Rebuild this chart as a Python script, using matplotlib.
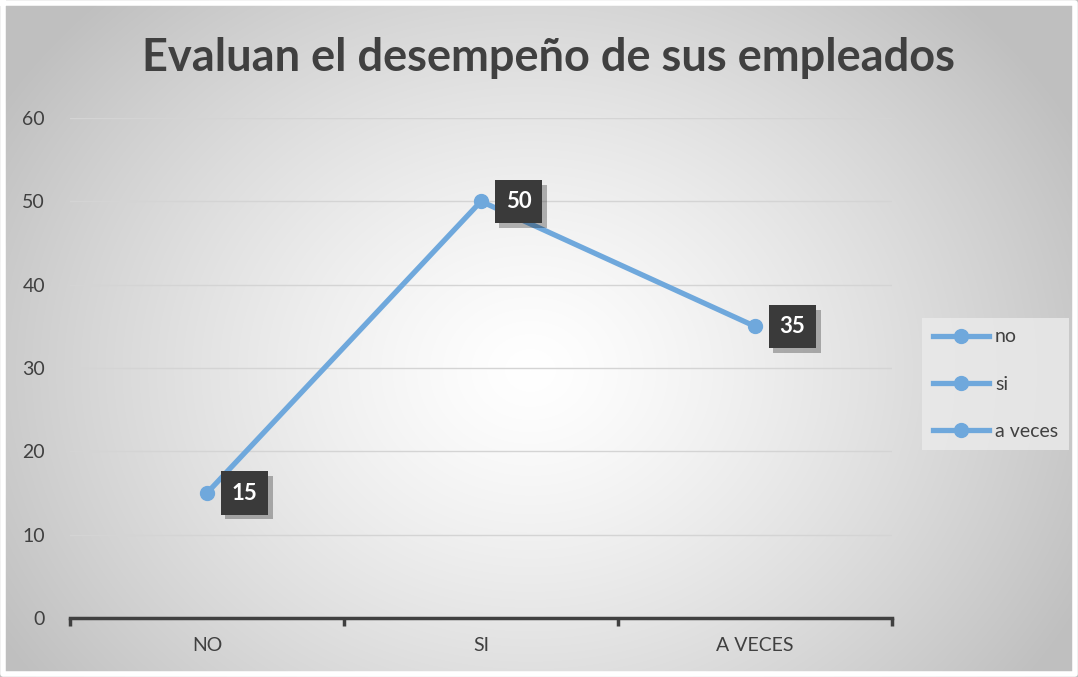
import numpy as np
import matplotlib.pyplot as plt
import matplotlib.patheffects as pe
from matplotlib.lines import Line2D

plt.rcParams['font.family'] = ['Lato', 'DejaVu Sans']

categories = ["NO", "SI", "A VECES"]
values = [15, 50, 35]
legend_labels = ["no", "si", "a veces"]
yticks = [0, 10, 20, 30, 40, 50, 60]

line_color = '#6fa8dc'
text_color = '#404040'

fig = plt.figure(figsize=(10.78, 6.77), dpi=100)

# radial gradient background
bg = fig.add_axes([0, 0, 1, 1], zorder=-10)
W, H = 1078, 677
yy, xx = np.mgrid[0:H, 0:W]
cx, cy = 530, 370
r = np.sqrt(((xx - cx) / 620.0) ** 2 + ((yy - cy) / 520.0) ** 2)
r = np.clip(r, 0, 1)
shade = 1.0 - 0.25 * r ** 1.3
img = np.dstack([shade, shade, shade])
bg.imshow(img, extent=[0, W, H, 0], aspect='auto', interpolation='bilinear')
bg.set_xlim(0, W)
bg.set_ylim(H, 0)
bg.axis('off')
# thin white frame
bg.plot([3, W - 3, W - 3, 3, 3], [3, 3, H - 3, H - 3, 3], color='white', lw=4)

ax = fig.add_axes([70 / W, 1 - 618 / H, (892 - 70) / W, 500 / H])
ax.patch.set_alpha(0)

x = np.arange(len(categories))
ax.plot(x, values, color=line_color, lw=3.8, marker='o', markersize=10,
        solid_capstyle='round', zorder=3)

for xi, v in zip(x, values):
    ann = ax.annotate(str(v), (xi, v), xytext=(27, 0), textcoords='offset points',
                      ha='center', va='center', fontsize=16, fontweight='bold', color='white',
                      bbox=dict(boxstyle='square,pad=0.5', fc='#3a3a3a', ec='none'),
                      zorder=5)
    ann.get_bbox_patch().set_path_effects([
        pe.SimplePatchShadow(offset=(3.5, -3.5), shadow_rgbFace='black', alpha=0.28),
        pe.Normal()])

ax.set_xlim(-0.5, len(categories) - 0.5)
ax.set_ylim(0, 60)
ax.set_yticks(yticks)
ax.set_yticklabels([str(t) for t in yticks], fontsize=14, color=text_color)
ax.tick_params(axis='y', length=0, pad=18)
ax.yaxis.grid(True, color='#d4d4d4', lw=1)
ax.set_axisbelow(True)

ax.set_xticks(x)
ax.set_xticklabels(categories, fontsize=14, color=text_color)
ax.tick_params(axis='x', length=0, pad=14)
ax.set_xticks(np.arange(len(categories) + 1) - 0.5, minor=True)
ax.tick_params(axis='x', which='minor', length=6, width=2.5, color=text_color, direction='out')

for s in ['top', 'right', 'left']:
    ax.spines[s].set_visible(False)
ax.spines['bottom'].set_color(text_color)
ax.spines['bottom'].set_linewidth(2.5)

fig.text(548 / W, 1 - 58 / H, "Evaluan el desempeño de sus empleados",
         ha='center', va='center', fontsize=32.5, fontweight='bold', color=text_color)

handles = [Line2D([0], [0], color=line_color, lw=3.8, marker='o', markersize=10)
           for _ in legend_labels]
leg = fig.legend(handles, legend_labels, loc='center left',
                 bbox_to_anchor=(922 / W, 1 - 384 / H), frameon=True, fontsize=14,
                 handlelength=2.9, handletextpad=0.3, labelspacing=1.55,
                 borderpad=0.55, borderaxespad=0, fancybox=False)
leg.get_frame().set_facecolor('#ebebeb')
leg.get_frame().set_edgecolor('none')
leg.get_frame().set_alpha(0.8)
for t in leg.get_texts():
    t.set_color(text_color)

fig.savefig('out.png', dpi=100)
